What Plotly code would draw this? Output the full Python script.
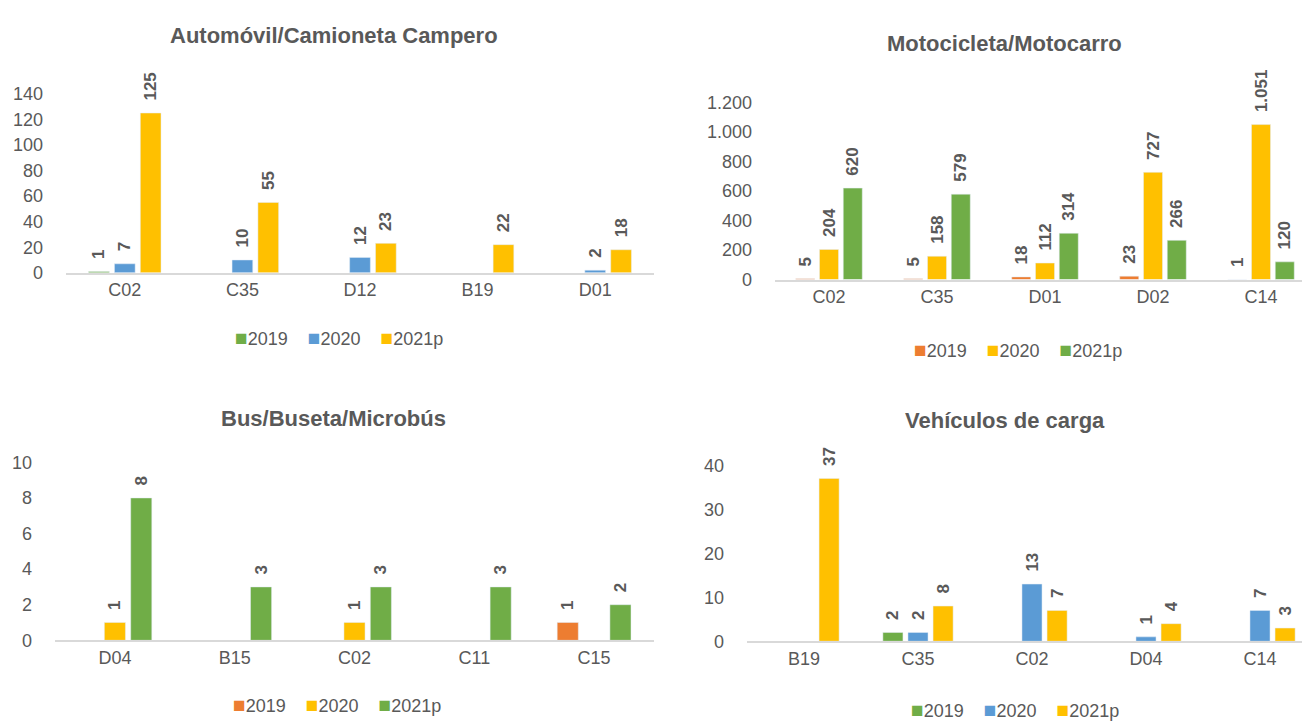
import plotly.graph_objects as go
from plotly.subplots import make_subplots

# ---------- data ----------
series = ["2019", "2020", "2021p"]

auto_cats = ["C02", "C35", "D12", "B19", "D01"]
auto_2019 = [1, None, None, None, None]
auto_2020 = [7, 10, 12, None, 2]
auto_2021 = [125, 55, 23, 22, 18]

moto_cats = ["C02", "C35", "D01", "D02", "C14"]
moto_2019 = [5, 5, 18, 23, 1]
moto_2020 = [204, 158, 112, 727, 1051]
moto_2021 = [620, 579, 314, 266, 120]

bus_cats = ["D04", "B15", "C02", "C11", "C15"]
bus_2019 = [None, None, None, None, 1]
bus_2020 = [1, None, 1, None, None]
bus_2021 = [8, 3, 3, 3, 2]

carga_cats = ["B19", "C35", "C02", "D04", "C14"]
carga_2019 = [None, 2, None, None, None]
carga_2020 = [None, 2, 13, 1, 7]
carga_2021 = [37, 8, 7, 4, 3]

titles = ["Automóvil/Camioneta Campero", "Motocicleta/Motocarro",
          "Bus/Buseta/Microbús", "Vehículos de carga"]

GREEN = "#70AD47"
BLUE = "#5B9BD5"
YELLOW = "#FFC000"
ORANGE = "#ED7D31"
TXT = "#595959"
FONT = "Liberation Sans, Arial, sans-serif"

panels = [
    (auto_cats, [auto_2019, auto_2020, auto_2021], [GREEN, BLUE, YELLOW], 1, 1, 140, 20),
    (moto_cats, [moto_2019, moto_2020, moto_2021], [ORANGE, YELLOW, GREEN], 1, 2, 1200, 200),
    (bus_cats, [bus_2019, bus_2020, bus_2021], [ORANGE, YELLOW, GREEN], 2, 1, 10, 2),
    (carga_cats, [carga_2019, carga_2020, carga_2021], [GREEN, BLUE, YELLOW], 2, 2, 40, 10),
]

fig = make_subplots(rows=2, cols=2)

for cats, vals, colors, r, c, ymax, dt in panels:
    for name, v, col in zip(series, vals, colors):
        fig.add_trace(go.Bar(
            x=cats, y=v, name=name, marker_color=col, showlegend=False,
            # non-breaking spaces push the rotated label away from the bar top
            texttemplate="\u00a0\u00a0%{y:,}", textposition="outside", textangle=-90,
            textfont=dict(size=17, color=TXT, family=FONT, weight="bold"),
            constraintext="none", cliponaxis=False,
        ), row=r, col=c)
    fig.update_yaxes(range=[0, ymax], dtick=dt, tickformat=",", row=r, col=c)

W, H = 1310, 723
def px(a, b, total):
    return [a / total, b / total]
def py(top, bottom):
    return [1 - bottom / H, 1 - top / H]

fig.update_layout(
    xaxis=dict(domain=px(58, 646, W)), yaxis=dict(domain=py(78, 262)),
    xaxis2=dict(domain=px(767, 1307, W)), yaxis2=dict(domain=py(87, 269)),
    xaxis3=dict(domain=px(47, 646, W)), yaxis3=dict(domain=py(457, 640)),
    xaxis4=dict(domain=px(739, 1309, W)), yaxis4=dict(domain=py(460, 641)),
)

fig.update_xaxes(showline=True, linecolor="#D9D9D9", linewidth=1.5, ticks="",
                 tickfont=dict(size=18, color=TXT, family=FONT), showgrid=False)
fig.update_yaxes(showline=False, showgrid=False, zeroline=False, ticks="",
                 tickfont=dict(size=18, color=TXT, family=FONT), ticklabelstandoff=22)

# titles
title_pos = [(326, 18), (997, 26), (325, 412), (997, 414)]
for t, (tx, ty) in zip(titles, title_pos):
    fig.add_annotation(text="<b>" + t + "</b>", x=tx / W, y=1 - ty / H, xref="paper", yref="paper",
                       showarrow=False, xanchor="center", yanchor="middle",
                       font=dict(size=22, color=TXT, family=FONT))

# Excel-style legends: small coloured square right next to each label
legend_pos = [(331, 329), (1010, 341), (329, 706), (1007, 711)]
for (cats, vals, colors, *_), (lx, ly) in zip(panels, legend_pos):
    parts = ['<span style="color:%s;font-size:21px">\u25A0</span>%s' % (col, name)
             for name, col in zip(series, colors)]
    fig.add_annotation(text="\u00a0\u00a0\u00a0\u00a0".join(parts), x=lx / W, y=1 - ly / H,
                       xref="paper", yref="paper", showarrow=False,
                       xanchor="center", yanchor="middle",
                       font=dict(size=18, color=TXT, family=FONT))

fig.update_layout(
    barmode="group", bargap=0.34, bargroupgap=0.2,
    separators=",.",
    width=W, height=H, margin=dict(l=0, r=0, t=0, b=0),
    plot_bgcolor="white", paper_bgcolor="white",
    font=dict(family=FONT, color=TXT),
)

fig.write_html("out.html")
